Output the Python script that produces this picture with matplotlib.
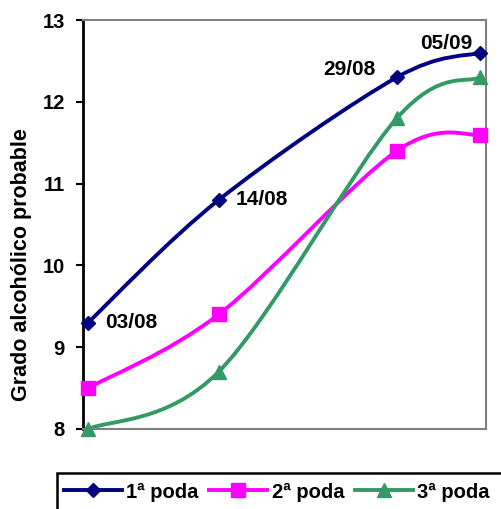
import matplotlib
matplotlib.use('Agg')
from matplotlib import pyplot as plt
from matplotlib.path import Path
from matplotlib.patches import PathPatch, Rectangle
from matplotlib.lines import Line2D

plt.rcParams['font.family'] = ['Liberation Sans', 'DejaVu Sans']
plt.rcParams['font.weight'] = 'bold'

# days since 03/08
days = [0, 11, 26, 33]
date_labels = ['03/08', '14/08', '29/08', '05/09']
poda1 = [9.3, 10.8, 12.3, 12.6]
poda2 = [8.5, 9.4, 11.4, 11.6]
poda3 = [8.0, 8.7, 11.8, 12.3]
series_names = ['1ª poda', '2ª poda', '3ª poda']
colors = ['#000080', '#FF00FF', '#339966']
markers = ['D', 's', '^']
msizes = [7.5, 10, 10]


def smooth_path(xs, ys):
    # Excel-like smoothed line: cubic bezier with Catmull-Rom control points
    pts = list(zip(xs, ys))
    n = len(pts)
    verts = [pts[0]]
    codes = [Path.MOVETO]
    for i in range(n - 1):
        p0 = pts[i - 1] if i > 0 else pts[i]
        p1 = pts[i]
        p2 = pts[i + 1]
        p3 = pts[i + 2] if i + 2 < n else pts[i + 1]
        c1 = (p1[0] + (p2[0] - p0[0]) / 6, p1[1] + (p2[1] - p0[1]) / 6)
        c2 = (p2[0] - (p3[0] - p1[0]) / 6, p2[1] - (p3[1] - p1[1]) / 6)
        verts += [c1, c2, p2]
        codes += [Path.CURVE4] * 3
    return Path(verts, codes)


W, H = 501, 509
fig = plt.figure(figsize=(W / 100, H / 100), dpi=100)
ax = fig.add_axes([83 / W, 1 - 429 / H, (486 - 83) / W, (429 - 20) / H])

handles = []
for vals, name, c, m, ms in zip([poda1, poda2, poda3], series_names, colors, markers, msizes):
    ax.add_patch(PathPatch(smooth_path(days, vals), fill=False, edgecolor=c, lw=2.8, clip_on=False, zorder=2))
    ax.plot(days, vals, linestyle='none', marker=m, ms=ms, color=c, clip_on=False, zorder=3)
    handles.append(Line2D([], [], color=c, lw=2.8, marker=m, ms=ms))

# date labels on first series
offsets = [(17, 0, 'left'), (17, 0, 'left'), (-21, 8, 'right'), (-8, 9, 'right')]
for x, y, lab, (dx, dy, ha) in zip(days, poda1, date_labels, offsets):
    ax.annotate(lab, (x, y), xytext=(dx, dy), textcoords='offset pixels',
                ha=ha, va='center', fontsize=15, fontweight='bold')

ax.set_xlim(-0.42, 33.5)
ax.set_ylim(8, 13)
ax.set_yticks([8, 9, 10, 11, 12, 13])
ax.set_xticks([])
ax.tick_params(axis='y', direction='out', length=5, width=1.5, labelsize=14.5, pad=8)
for lab in ax.get_yticklabels():
    lab.set_fontweight('bold')
ax.spines['left'].set_color('black')
ax.spines['left'].set_linewidth(2)
for s in ['top', 'right', 'bottom']:
    ax.spines[s].set_color('#808080')
    ax.spines[s].set_linewidth(1.5)
fig.text(22 / W, 1 - 265 / H, 'Grado alcohólico probable', rotation=90, ha='center', va='center',
         fontsize=15.5, fontweight='bold')

# legend box runs past the figure edge
fig.patches.append(Rectangle((57 / W, -0.1), 0.99, (1 - 473 / H) + 0.1, transform=fig.transFigure,
                             fill=False, edgecolor='black', lw=1.8))
fig.legend(handles, series_names, loc='center left', bbox_to_anchor=(64 / W, 1 - 492 / H),
           ncol=3, frameon=False, prop={'weight': 'bold', 'size': 14.5},
           handlelength=2.88, handletextpad=0.2, columnspacing=0.55, borderaxespad=0, borderpad=0)

plt.savefig('out.png', dpi=100)
plt.close()
